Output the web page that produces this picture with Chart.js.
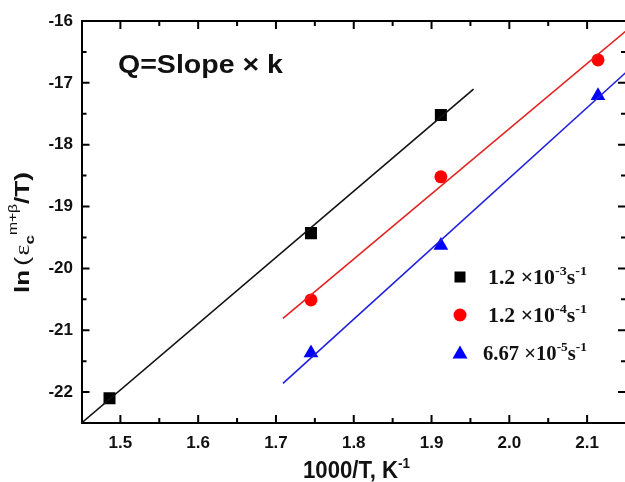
<!DOCTYPE html>
<html><head><meta charset="utf-8">
<style>html,body{margin:0;padding:0;background:#fff;overflow:hidden}canvas{display:block}</style>
<script src="https://cdn.jsdelivr.net/npm/chart.js@4/dist/chart.umd.min.js"></script>
</head><body>
<canvas id="c" width="625" height="482"></canvas>
<script>
// ---- data ----
const xTicks = [1.5, 1.6, 1.7, 1.8, 1.9, 2.0, 2.1];
const xMinorTicks = [1.55, 1.65, 1.75, 1.85, 1.95, 2.05];
const yTicks = [-22, -21, -20, -19, -18, -17, -16];
const yMinorTicks = [-21.5, -20.5, -19.5, -18.5, -17.5, -16.5];

const s1X = [1.486, 1.745, 1.912];
const s1Y = [-22.10, -19.43, -17.52];
const s2X = [1.745, 1.912, 2.114];
const s2Y = [-20.51, -18.52, -16.63];
const s3X = [1.745, 1.912, 2.114];
const s3Y = [-21.37, -19.63, -17.21];

const fit1X = [1.45, 1.954];
const fit1Y = [-22.5, -17.10];
const fit2X = [1.709, 2.15];
const fit2Y = [-20.81, -16.16];
const fit3X = [1.709, 2.15];
const fit3Y = [-21.86, -16.83];

const seriesNames = [['1.2 ×10', '-3', 's', '-1'], ['1.2 ×10', '-4', 's', '-1'], ['6.67 ×10', '-5', 's', '-1']];

const SANS = '"Liberation Sans", Arial, sans-serif';
const SERIF = '"Liberation Serif", "Times New Roman", serif';

const pts = (xs, ys) => xs.map((x, i) => ({x: x, y: ys[i]}));

function rich(ctx, x, y, parts) {
  let cx = x;
  for (const p of parts) {
    ctx.font = p.f;
    ctx.fillText(p.t, cx, y + (p.dy || 0));
    cx += ctx.measureText(p.t).width + (p.gap || 0);
  }
  return cx - x;
}
function richWidth(ctx, parts) {
  let w = 0;
  for (const p of parts) { ctx.font = p.f; w += ctx.measureText(p.t).width + (p.gap || 0); }
  return w;
}
// draw rich text stretched to a target width, starting at (x, y)
function richFit(ctx, x, y, parts, target) {
  const w = richWidth(ctx, parts);
  ctx.save();
  ctx.translate(x, y);
  ctx.scale(target / w, 1);
  rich(ctx, 0, 0, parts);
  ctx.restore();
}

// the plot frame of the original runs just past the right edge of the picture
const PLOT_RIGHT = 626;
const widen = {
  id: 'widen',
  afterLayout(chart) {
    const a = chart.chartArea, xs = chart.scales.x;
    a.right = PLOT_RIGHT; a.width = PLOT_RIGHT - a.left;
    xs.right = PLOT_RIGHT; xs.width = PLOT_RIGHT - xs.left;
    xs.configure();
  }
};

const frame = {
  id: 'frame',
  afterDraw(chart) {
    const ctx = chart.ctx, a = chart.chartArea;
    const xs = chart.scales.x, ys = chart.scales.y;
    ctx.save();
    ctx.strokeStyle = '#000';
    ctx.lineWidth = 2;
    ctx.beginPath();
    ctx.moveTo(a.left, a.top); ctx.lineTo(a.right, a.top);
    ctx.moveTo(a.right, a.top); ctx.lineTo(a.right, a.bottom);
    ctx.stroke();
    // inward ticks
    ctx.beginPath();
    const maj = 8, min = 5;
    xTicks.forEach(v => { const p = xs.getPixelForValue(v);
      ctx.moveTo(p, a.bottom); ctx.lineTo(p, a.bottom - maj);
      ctx.moveTo(p, a.top); ctx.lineTo(p, a.top + maj); });
    xMinorTicks.forEach(v => { const p = xs.getPixelForValue(v);
      ctx.moveTo(p, a.bottom); ctx.lineTo(p, a.bottom - min);
      ctx.moveTo(p, a.top); ctx.lineTo(p, a.top + min); });
    yTicks.forEach(v => { const p = ys.getPixelForValue(v);
      ctx.moveTo(a.left, p); ctx.lineTo(a.left + maj, p);
      ctx.moveTo(a.right, p); ctx.lineTo(a.right - maj, p); });
    yMinorTicks.forEach(v => { const p = ys.getPixelForValue(v);
      ctx.moveTo(a.left, p); ctx.lineTo(a.left + min, p);
      ctx.moveTo(a.right, p); ctx.lineTo(a.right - min, p); });
    ctx.stroke();

    ctx.fillStyle = '#111';
    ctx.textBaseline = 'alphabetic';
    ctx.textAlign = 'left';
    // annotation
    richFit(ctx, 118, 73, [{t: 'Q=Slope × k', f: 'bold 25px ' + SANS}], 165);

    // x title
    richFit(ctx, 303, 478, [{t: '1000/T, K', f: 'bold 23px ' + SANS}, {t: '-1', f: 'bold 14px ' + SANS, dy: -10}], 107);

    // y title
    ctx.save();
    ctx.translate(29, 293);
    ctx.rotate(-Math.PI / 2);
    richFit(ctx, 0, 0, [
      {t: 'ln', f: 'bold 20px ' + SANS, gap: 3},
      {t: '(', f: '21px ' + SANS, gap: 1},
      {t: 'ε', f: '20px ' + SERIF},
      {t: 'c', f: 'bold 13px ' + SANS, dy: 5},
      {t: 'm+β', f: '12px ' + SANS, dy: -12},
      {t: '/T)', f: 'bold 20px ' + SANS}
    ], 121);
    ctx.restore();

    // legend
    const lx = 460, rows = [277, 315, 353], tx = [488, 488, 483], base = [284, 322, 360], tw = [99, 99, 104];
    ctx.fillStyle = '#000';
    ctx.fillRect(lx - 5.5, rows[0] - 5.5, 11, 11);
    ctx.fillStyle = '#ff0000';
    ctx.beginPath(); ctx.arc(lx, rows[1], 6.5, 0, Math.PI * 2); ctx.fill();
    ctx.fillStyle = '#0000ff';
    ctx.beginPath(); ctx.moveTo(lx, rows[2] - 7.5); ctx.lineTo(lx + 7.5, rows[2] + 5.5); ctx.lineTo(lx - 7.5, rows[2] + 5.5); ctx.closePath(); ctx.fill();
    ctx.fillStyle = '#111';
    seriesNames.forEach((n, i) => {
      richFit(ctx, tx[i], base[i], [
        {t: n[0], f: 'bold 20px ' + SERIF},
        {t: n[1], f: 'bold 13px ' + SERIF, dy: -9},
        {t: n[2], f: 'bold 20px ' + SERIF},
        {t: n[3], f: 'bold 13px ' + SERIF, dy: -9}
      ], tw[i]);
    });
    ctx.restore();
  }
};

new Chart(document.getElementById('c'), {
  type: 'scatter',
  data: {
    datasets: [
      {label: 'fit1', data: pts(fit1X, fit1Y), showLine: true, borderColor: '#111', borderWidth: 1.6, pointRadius: 0},
      {label: 'fit2', data: pts(fit2X, fit2Y), showLine: true, borderColor: '#e52222', borderWidth: 1.6, pointRadius: 0},
      {label: 'fit3', data: pts(fit3X, fit3Y), showLine: true, borderColor: '#1f1fe0', borderWidth: 1.6, pointRadius: 0},
      {label: '1.2e-3', data: pts(s1X, s1Y), pointStyle: 'rect', pointRadius: 8.5, backgroundColor: '#000', borderColor: '#000', borderWidth: 0},
      {label: '1.2e-4', data: pts(s2X, s2Y), pointStyle: 'circle', pointRadius: 6.5, backgroundColor: '#ff0000', borderColor: '#ff0000', borderWidth: 0},
      {label: '6.67e-5', data: pts(s3X, s3Y), pointStyle: 'triangle', pointRadius: 8.5, backgroundColor: '#0000ff', borderColor: '#0000ff', borderWidth: 0}
    ]
  },
  options: {
    responsive: false, animation: false, devicePixelRatio: 1,
    layout: {padding: {top: 21, right: 0, left: 0, bottom: 0}},
    plugins: {legend: {display: false}, tooltip: {enabled: false}},
    scales: {
      x: {
        type: 'linear', min: 1.45, max: 2.15,
        afterFit: s => { s.height = 59; s.paddingLeft = 0; s.paddingRight = 0; },
        afterBuildTicks: s => { s.ticks = xTicks.map(v => ({value: v})); },
        ticks: {callback: v => v.toFixed(1), font: {family: SANS, size: 17, weight: 'bold'}, color: '#111', padding: 10, maxRotation: 0, autoSkip: false},
        grid: {display: false, drawTicks: false},
        border: {display: true, color: '#000', width: 2}
      },
      y: {
        type: 'linear', min: -22.5, max: -16,
        afterFit: s => { s.width = 81.5; s.paddingTop = 0; s.paddingBottom = 0; },
        afterBuildTicks: s => { s.ticks = yTicks.map(v => ({value: v})); },
        ticks: {callback: v => String(v), font: {family: SANS, size: 17, weight: 'bold'}, color: '#111', padding: 8.5, autoSkip: false},
        grid: {display: false, drawTicks: false},
        border: {display: true, color: '#000', width: 2}
      }
    }
  },
  plugins: [widen, frame]
});
</script>
</body></html>
